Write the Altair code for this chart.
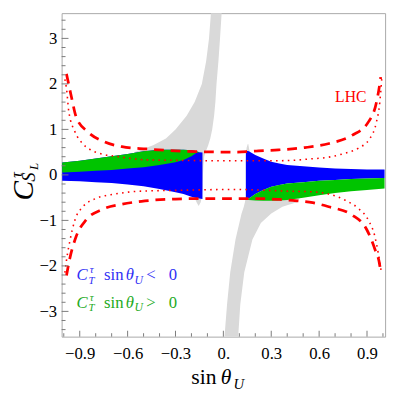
import altair as alt
import pandas as pd

SERIF = "Liberation Serif"
W, H = 330, 330

# ---- axis ticks ----
x_major = [-0.9, -0.6, -0.3, 0.0, 0.3, 0.6, 0.9]
x_minor = [-1.0, -0.8, -0.7, -0.5, -0.4, -0.2, -0.1, 0.1, 0.2, 0.4, 0.5, 0.7, 0.8, 1.0]
y_major = [-3, -2, -1, 0, 1, 2, 3]
y_minor = [-3.4, -3.2, -2.8, -2.6, -2.4, -2.2, -1.8, -1.6, -1.4, -1.2, -0.8, -0.6, -0.4, -0.2,
           0.2, 0.4, 0.6, 0.8, 1.2, 1.4, 1.6, 1.8, 2.2, 2.4, 2.6, 2.8, 3.2, 3.4]

# ---- gray band, upper branch (x range at each y) ----
gu_y = [-0.68, -0.6, -0.5, -0.3, 0.0, 0.2, 0.4, 0.5, 0.65, 0.8, 1.0, 1.3, 1.6, 2.0, 2.5, 3.0, 3.6]
gu_xl = [-0.156, -0.168, -0.18, -0.2, -0.3, -0.4, -0.5, -0.56, -0.44, -0.36, -0.30, -0.23, -0.18, -0.135, -0.108, -0.090, -0.077]
gu_xr = [-0.154, -0.142, -0.136, -0.13, -0.128, -0.125, -0.12, -0.112, -0.095, -0.082, -0.070, -0.058, -0.050, -0.043, -0.031, -0.021, -0.010]

# ---- gray band, lower branch ----
gl_y = [-3.6, -2.85, -2.14, -1.42, -1.06, -0.85, -0.7, -0.6, -0.5, -0.3, 0.0, 0.3, 0.5, 0.6, 0.68]
gl_xl = [0.006, 0.023, 0.043, 0.076, 0.10, 0.114, 0.128, 0.135, 0.14, 0.14, 0.14, 0.14, 0.142, 0.146, 0.153]
gl_xr = [0.092, 0.106, 0.131, 0.182, 0.235, 0.30, 0.37, 0.46, 0.48, 0.40, 0.30, 0.22, 0.165, 0.16, 0.156]

# ---- left block (blue below, green above) ----
L_x = [-1.01, -0.9, -0.8, -0.7, -0.6, -0.5, -0.4, -0.3, -0.25, -0.2, -0.17, -0.15, -0.131]
L_lo = [-0.13, -0.14, -0.16, -0.18, -0.21, -0.25, -0.31, -0.38, -0.42, -0.48, -0.51, -0.52, -0.53]
L_mid = [0.05, 0.07, 0.09, 0.11, 0.14, 0.17, 0.22, 0.28, 0.33, 0.41, 0.48, 0.50, 0.49]
L_top = [0.27, 0.31, 0.36, 0.41, 0.46, 0.52, 0.55, 0.55, 0.55, 0.54, 0.52, 0.50, 0.49]

# ---- right block (blue above, green below) ----
R_x = [0.141, 0.16, 0.2, 0.25, 0.3, 0.35, 0.4, 0.5, 0.6, 0.7, 0.8, 0.9, 1.01]
R_top = [0.53, 0.52, 0.44, 0.36, 0.29, 0.25, 0.22, 0.19, 0.16, 0.14, 0.13, 0.12, 0.12]
R_mid = [-0.54, -0.52, -0.42, -0.33, -0.26, -0.22, -0.19, -0.16, -0.13, -0.11, -0.09, -0.08, -0.07]
R_bot = [-0.54, -0.55, -0.56, -0.57, -0.57, -0.56, -0.55, -0.50, -0.45, -0.40, -0.36, -0.33, -0.30]

# ---- LHC dashed ----
du_x = [-0.983, -0.953, -0.922, -0.851, -0.748, -0.636, -0.483, -0.3, -0.15, 0.08, 0.22, 0.345, 0.51, 0.663, 0.806, 0.908, 0.959, 0.98, 0.986]
du_y = [2.22, 1.73, 1.27, 0.95, 0.73, 0.62, 0.57, 0.53, 0.51, 0.50, 0.53, 0.55, 0.60, 0.69, 0.87, 1.16, 1.59, 2.0, 2.15]
dl_x = [-0.983, -0.963, -0.922, -0.86, -0.76, -0.636, -0.513, -0.3, -0.1, 0.08, 0.22, 0.35, 0.46, 0.56, 0.66, 0.806, 0.898, 0.949, 0.98, 0.986]
dl_y = [-2.21, -1.85, -1.35, -0.99, -0.76, -0.645, -0.58, -0.53, -0.52, -0.52, -0.52, -0.54, -0.57, -0.61, -0.70, -0.88, -1.20, -1.63, -1.99, -2.14]

# ---- LHC dotted ----
tu_x = [-0.993, -0.983, -0.968, -0.93, -0.88, -0.845, -0.75, -0.677, -0.575, -0.483, -0.3, 0.0, 0.3, 0.43, 0.54, 0.66, 0.765, 0.847, 0.918, 0.959, 0.98, 0.993]
tu_y = [2.1, 1.9, 1.38, 0.95, 0.68, 0.58, 0.45, 0.41, 0.36, 0.33, 0.32, 0.31, 0.31, 0.32, 0.35, 0.39, 0.48, 0.59, 0.80, 1.16, 1.59, 2.15]
tl_x = [-0.993, -0.983, -0.96, -0.93, -0.88, -0.8, -0.677, -0.534, -0.3, 0.08, 0.43, 0.55, 0.66, 0.765, 0.847, 0.908, 0.949, 0.97, 0.99]
tl_y = [-2.15, -1.88, -1.42, -0.99, -0.70, -0.52, -0.42, -0.36, -0.34, -0.32, -0.36, -0.37, -0.42, -0.56, -0.74, -0.99, -1.35, -1.71, -2.14]

xs = alt.Scale(domain=[-1.0135, 1.0135], nice=False, zero=False)
ys = alt.Scale(domain=[-3.555, 3.555], nice=False, zero=False)

xaxis = alt.Axis(values=x_major, labelExpr="datum.value == 0 ? '0.' : replace(format(datum.value, '.1f'), '-', '\u2212')",
                 ticks=False, domain=False, grid=False, labelFont=SERIF, labelFontSize=17,
                 labelColor="black", labelPadding=9, title=None)
yaxis = alt.Axis(values=y_major, labelExpr="replace(format(datum.value, 'd'), '-', '\u2212')",
                 ticks=False, domain=False, grid=False, labelFont=SERIF, labelFontSize=17,
                 labelColor="black", labelPadding=5, title=None)

def X(f):
    return alt.X(f, type="quantitative", scale=xs, axis=xaxis)

def Y(f):
    return alt.Y(f, type="quantitative", scale=ys, axis=yaxis)

GRAY = "#d9d9d9"
BLUE = "#0000ff"
GREEN = "#00c400"
RED = "#ff0000"

gu = pd.DataFrame({"yy": gu_y, "xl": gu_xl, "xr": gu_xr})
gl = pd.DataFrame({"yy": gl_y, "xl": gl_xl, "xr": gl_xr})
Ldf = pd.DataFrame({"x": L_x, "lo": L_lo, "mid": L_mid, "top": L_top})
Rdf = pd.DataFrame({"x": R_x, "top": R_top, "mid": R_mid, "bot": R_bot})

def band_h(df):
    return alt.Chart(df).mark_area(orient="horizontal", color=GRAY, clip=True).encode(
        y=Y("yy"), x=X("xl"), x2=alt.X2("xr"))

def band_v(df, lo, hi, color):
    return alt.Chart(df).mark_area(color=color, clip=True).encode(
        x=X("x"), y=Y(lo), y2=alt.Y2(hi))

def curve(xv, yv, dash, width, cap="butt"):
    df = pd.DataFrame({"x": xv, "y": yv})
    return alt.Chart(df).mark_line(color=RED, strokeDash=dash, strokeWidth=width,
                                   strokeCap=cap, interpolate="monotone", clip=True).encode(
        x=X("x"), y=Y("y"))

def ticks_x(vals, length):
    df = pd.DataFrame({"v": vals})
    return alt.Chart(df).mark_rule(color="#7a7a7a", strokeWidth=1).encode(
        x=X("v"), y=alt.value(H), y2=alt.value(H - length))

def ticks_y(vals, length):
    df = pd.DataFrame({"v": vals})
    return alt.Chart(df).mark_rule(color="#7a7a7a", strokeWidth=1).encode(
        y=Y("v"), x=alt.value(0), x2=alt.value(length))

one = pd.DataFrame({"a": [0]})

def txt(s, px, py, size, color="black", italic=False, angle=0):
    props = dict(text=s, fontSize=size, font=SERIF, color=color, align="left",
                 baseline="alphabetic", fontStyle="italic" if italic else "normal")
    if angle:
        props["angle"] = angle
    return alt.Chart(one).mark_text(**props).encode(x=alt.value(px), y=alt.value(py))

def legend_line(py, sign, color):
    return [
        txt("C", 15.3, py, 17, color, True),
        txt("\u03c4", 28.8, py - 7.5, 11, color, True),
        txt("T", 27.3, py + 3.5, 11, color, True),
        txt("sin", 43.3, py, 17, color),
        txt("\u03b8", 65.3, py, 17, color, True),
        txt("U", 74.3, py + 3.5, 12, color, True),
        txt(sign, 86.3, py, 17, color),
        txt("0", 109.3, py, 17, color),
    ]

layers = [
    band_h(gu), band_h(gl),
    band_v(Ldf, "lo", "top", BLUE), band_v(Ldf, "mid", "top", GREEN),
    band_v(Rdf, "mid", "top", BLUE), band_v(Rdf, "bot", "mid", GREEN),
    curve(du_x, du_y, [10, 7], 2.8), curve(dl_x, dl_y, [10, 7], 2.8),
    curve(tu_x, tu_y, [1.6, 4.4], 1.6), curve(tl_x, tl_y, [1.6, 4.4], 1.6),
    ticks_x(x_major, 6), ticks_x(x_minor, 3.5),
    ticks_y(y_major, 7), ticks_y(y_minor, 4),
    txt("LHC", 279, 90.7, 16, RED),
    # x-axis title: sin theta_U
    txt("sin", 132.3, 378.7, 22), txt("\u03b8", 162.3, 378.7, 22, italic=True),
    txt("U", 175.3, 383.7, 15, italic=True),
    # y-axis title: C^tau_{S_L}
    txt("C", -29.7, 191, 30, italic=True, angle=270),
    txt("\u03c4", -40.0, 168, 16, italic=True, angle=270),
    txt("S", -27.5, 172, 19, italic=True, angle=270),
    txt("L", -24.5, 160, 13, italic=True, angle=270),
] + legend_line(272.7, "<", "#2f2ff5") + legend_line(300.7, ">", "#22aa22")

chart = alt.layer(*layers).properties(
    width=W, height=H,
    autosize=alt.AutoSizeParams(type="none"),
    padding={"left": 54.7, "top": 1.3, "right": 6, "bottom": 62},
    background="white",
).configure_view(stroke="#a8a8a8", strokeWidth=1)

chart.save("out.html", embed_options={"renderer": "svg", "actions": False})
